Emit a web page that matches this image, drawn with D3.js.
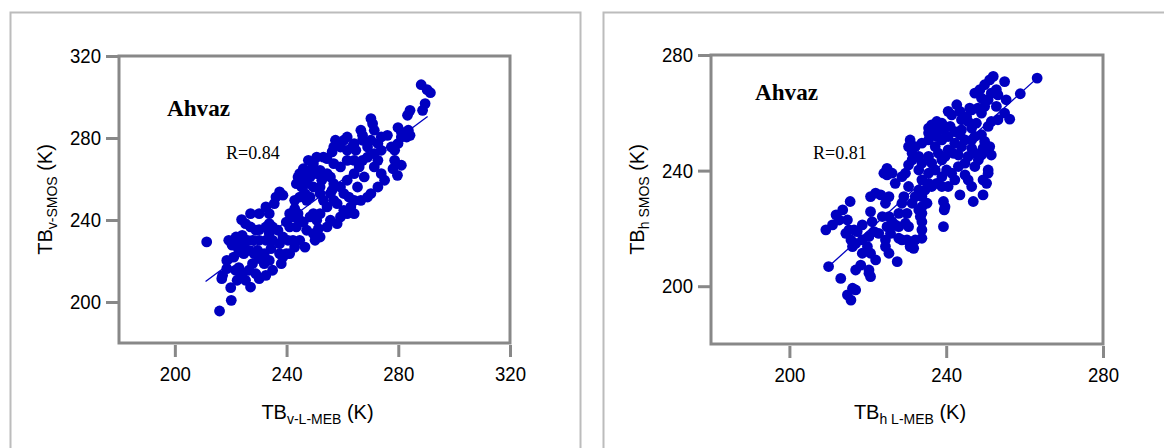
<!DOCTYPE html>
<html>
<head>
<meta charset="utf-8">
<script src="https://cdn.jsdelivr.net/npm/d3@7"></script>
<style>
  body { margin: 0; background: #fff; }
  svg { display: block; }
</style>
</head>
<body>
<div id="chart"></div>
<script>
// ---- data: vertical polarisation (left panel) ----
var vMeb = [288.2,290.3,291.5,289.6,288.7,284.2,283.3,279.9,281.1,283.6,284.2,283.0,276.1,278.7,279.9,277.5,270.2,270.8,266.6,267.2,
  271.4,270.2,272.7,261.7,260.5,264.2,263.5,261.7,259.3,256.9,256.3,254.5,253.2,249.6,249.0,246.0,244.7,244.1,243.5,245.4,
  247.2,248.4,250.8,252.0,254.5,255.7,256.9,259.3,261.7,264.2,266.0,267.2,269.0,271.4,273.9,272.7,271.4,273.9,275.1,272.7,
  270.2,269.0,266.6,264.2,263.0,261.7,264.2,278.7,281.1,279.7,278.1,255.7,256.9,254.5,252.0,255.7,258.1,259.3,260.5,258.1,
  253.2,252.0,249.6,248.4,247.2,244.7,242.9,237.5,238.7,236.2,235.6,233.8,232.6,230.2,227.1,223.9,225.3,242.9,244.1,242.3,
  239.9,241.1,243.5,246.0,248.4,249.6,250.8,251.4,249.6,252.0,250.2,246.6,244.7,242.3,242.9,241.1,238.7,238.1,239.9,240.5,
  237.5,233.8,235.0,236.9,233.8,232.6,234.4,232.0,233.8,235.0,232.6,230.2,229.0,227.1,225.3,224.1,222.3,221.7,222.9,226.5,
  227.8,230.2,232.0,220.5,221.9,224.1,226.0,224.7,222.9,226.5,228.4,229.6,230.2,227.8,229.0,230.2,217.1,218.6,216.8,220.0,
  220.2,216.0,211.4,247.8,250.8,257.5,264.8,269.0,267.8,265.4,260.5,252.6,246.6,241.1,244.7,235.0,238.7,247.2,254.5,256.3,
  262.3,259.3,256.9,261.7,264.2,252.0,247.2,245.4,273.9,267.2,281.1,237.5,230.2,219.3,222.9,227.1,224.7,218.6,221.1,232.6];
var vSmos = [306.0,303.6,302.1,296.8,293.5,293.5,291.1,285.1,282.9,283.8,281.3,280.5,281.3,274.0,277.3,275.6,289.5,287.0,283.8,281.3,
  283.8,278.9,277.3,280.5,278.9,277.3,275.6,274.0,275.6,275.6,273.2,269.9,270.7,267.5,265.0,265.0,262.6,261.0,257.7,256.1,
  257.7,261.0,262.6,264.2,262.6,261.0,257.7,256.1,259.4,262.6,265.9,269.1,270.7,272.4,274.0,269.1,265.9,262.6,259.4,256.1,
  252.9,251.2,249.6,249.6,246.4,243.1,243.1,269.1,266.7,261.8,265.0,252.9,249.6,246.4,243.1,239.9,238.2,241.5,244.7,248.0,
  249.6,252.9,256.1,251.2,249.6,251.2,249.6,253.7,252.1,251.2,248.0,243.1,246.4,243.1,243.1,240.2,238.2,245.5,243.1,241.5,
  239.0,236.6,236.6,239.0,241.5,243.1,239.9,235.8,233.4,231.7,230.1,226.8,230.1,230.1,226.8,223.6,222.0,218.7,223.6,230.1,
  228.5,238.2,236.6,235.0,233.4,230.1,226.0,223.6,220.3,215.5,213.0,211.4,213.8,207.3,210.6,213.8,210.6,215.5,216.8,215.5,
  218.7,221.2,218.7,227.7,231.7,232.5,230.1,226.8,225.2,225.2,223.6,225.2,222.0,230.1,235.0,235.3,213.0,216.3,211.4,207.0,
  200.8,195.6,229.3,269.1,270.7,278.9,274.0,275.6,261.0,256.1,252.9,259.4,252.9,243.1,239.9,230.1,231.7,235.0,236.6,254.5,
  251.2,265.9,267.5,269.1,269.1,256.1,262.6,259.4,280.5,278.9,280.5,223.6,230.1,230.1,229.3,236.6,223.6,220.3,221.9,236.6];
var vTicks = [200, 240, 280, 320];
var vFitX = [211, 290.5];
var vFitY = [210, 290.5];

// ---- data: horizontal polarisation (right panel) ----
var hMeb = [263.2,258.9,256.2,254.9,252.0,251.1,249.8,248.6,247.3,249.0,250.7,252.8,253.2,251.5,255.3,249.8,248.1,246.5,245.2,246.0,
  242.7,241.4,240.5,243.9,245.6,246.5,249.0,247.3,253.2,249.0,238.9,237.6,236.3,235.5,237.2,239.3,241.0,242.2,243.5,244.8,
  243.9,246.5,247.3,245.6,244.8,247.3,248.2,249.0,250.7,251.5,251.1,250.7,249.4,250.3,249.4,246.9,243.5,244.8,245.6,243.1,
  241.4,240.1,238.9,237.6,236.3,235.5,233.8,233.0,233.8,235.1,233.8,233.0,233.4,233.8,233.8,233.8,232.1,231.7,230.0,230.8,
  228.7,227.9,229.6,230.0,228.7,229.2,231.3,232.1,233.0,233.8,233.0,231.3,230.4,231.3,232.1,230.8,230.4,233.8,235.5,237.2,
  238.0,235.5,236.3,238.9,239.7,240.5,241.8,242.2,239.3,239.5,239.3,239.7,227.0,228.7,226.2,224.9,224.9,224.1,220.7,222.0,
  223.3,224.5,220.7,225.4,226.2,227.0,224.9,225.8,224.5,222.8,221.6,220.3,218.6,216.9,216.1,215.7,219.9,218.6,220.7,222.0,
  224.5,225.4,227.5,227.9,215.5,213.6,211.9,211.0,209.3,212.7,214.8,215.2,217.3,214.4,216.9,218.2,220.3,220.7,213.1,216.1,
  216.9,214.8,215.7,210.0,237.6,238.9,240.5,243.9,247.7,250.7,249.8,246.5,243.1,237.2,238.9,234.6,242.2,235.5,229.6,233.8,
  230.4,223.7,225.4,227.9,221.1,218.6,216.5,254.9,252.8,243.5,251.5,249.4,246.5,250.7,240.5,230.4,220.3,235.5];
var hSmos = [272.0,266.6,257.8,270.8,272.6,271.4,269.7,268.0,266.8,265.1,264.5,268.0,266.2,266.8,264.5,262.2,261.6,261.0,258.7,261.6,
  262.8,259.3,260.5,257.6,257.0,254.7,252.4,251.8,257.6,259.9,256.4,257.0,255.8,254.7,254.1,254.1,255.3,253.5,252.4,250.6,
  248.3,247.7,246.0,244.9,242.6,241.4,243.7,245.4,247.2,245.4,248.3,240.2,236.8,235.6,231.6,229.3,231.6,238.5,236.8,241.4,
  239.1,240.2,237.9,235.6,234.5,235.6,236.8,233.3,231.0,228.7,227.5,226.4,224.1,222.3,219.5,216.6,216.0,213.1,216.0,213.7,
  216.0,220.6,221.8,225.2,228.7,231.0,228.7,231.0,240.2,242.6,244.9,243.7,242.0,246.0,248.3,250.6,248.3,249.5,250.6,248.3,
  246.0,244.9,242.6,243.7,244.9,247.2,246.0,249.5,229.3,226.4,220.6,227.5,235.6,237.9,239.1,240.8,238.5,239.1,231.0,232.2,
  231.6,228.7,225.8,224.1,222.3,221.2,220.6,218.3,216.0,218.3,218.9,217.2,216.0,214.8,213.7,216.0,213.7,211.4,211.4,209.1,
  213.7,211.4,208.5,216.6,229.3,226.4,224.7,221.2,219.5,222.9,222.9,219.5,218.9,218.3,205.6,207.3,205.6,203.3,202.7,199.3,
  198.7,197.0,195.2,206.8,251.8,250.6,251.8,254.1,256.4,255.3,250.1,250.6,245.4,240.2,234.5,233.3,236.8,239.1,239.1,225.2,
  220.6,224.1,231.0,225.2,222.3,221.2,219.5,259.9,262.2,260.5,257.0,247.7,234.5,239.1,234.5,234.5,204.5,253.0];
var hTicks = [200, 240, 280];
var hFitX = [210, 263.2];
var hFitY = [206.8, 272];

var svgWidth = 1164;
var svgHeight = 448;

var svg = d3.select("#chart")
    .append("svg")
    .attr("width", svgWidth)
    .attr("height", svgHeight);

var dotColor = "#0000c0";
var frameColor = "#888888";

function drawPanel(p) {
    var g = svg.append("g");

    // light outer frame of the panel
    g.append("rect")
        .attr("x", p.frameX)
        .attr("y", 12.5)
        .attr("width", p.frameW)
        .attr("height", 480)
        .attr("fill", "none")
        .attr("stroke", "#bcbcbc")
        .attr("stroke-width", 2);

    var x = d3.scaleLinear().domain(p.domain).range([p.left, p.right]);
    var y = d3.scaleLinear().domain(p.domain).range([p.bottom, p.top]);

    // plot box
    g.append("rect")
        .attr("x", p.left)
        .attr("y", p.top)
        .attr("width", p.right - p.left)
        .attr("height", p.bottom - p.top)
        .attr("fill", "none")
        .attr("stroke", frameColor)
        .attr("stroke-width", 3);

    // axes
    var yAxis = d3.axisLeft(y).tickValues(p.ticks).tickSize(12).tickPadding(5).tickFormat(d3.format("d"));
    var xAxis = d3.axisBottom(x).tickValues(p.ticks).tickSize(12).tickPadding(10).tickFormat(d3.format("d"));

    var gy = g.append("g")
        .attr("transform", `translate(${p.left - 1},0)`)
        .call(yAxis);
    var gx = g.append("g")
        .attr("transform", `translate(0,${p.bottom + 2})`)
        .call(xAxis);

    [gx, gy].forEach(function(a) {
        a.select(".domain").remove();
        a.selectAll(".tick line").attr("stroke", frameColor).attr("stroke-width", 3);
        a.selectAll(".tick text")
            .attr("fill", "#000")
            .style("font-family", "'Liberation Sans', Arial, sans-serif")
            .style("font-size", "20px")
            .attr("textLength", 31)
            .attr("lengthAdjust", "spacingAndGlyphs");
    });

    // fitted line
    g.append("line")
        .attr("x1", x(p.fitX[0])).attr("y1", y(p.fitY[0]))
        .attr("x2", x(p.fitX[1])).attr("y2", y(p.fitY[1]))
        .attr("stroke", dotColor)
        .attr("stroke-width", 1.3);

    // points
    g.selectAll(".pt")
        .data(p.xs)
        .enter()
        .append("circle")
        .attr("cx", d => x(d))
        .attr("cy", (d, i) => y(p.ys[i]))
        .attr("r", 5.4)
        .attr("fill", dotColor);

    // station name and correlation
    g.append("text")
        .attr("x", p.nameX).attr("y", p.nameY)
        .style("font-family", "'Liberation Serif', 'Times New Roman', serif")
        .style("font-weight", "bold")
        .style("font-size", "23px")
        .attr("textLength", 63)
        .attr("lengthAdjust", "spacingAndGlyphs")
        .text("Ahvaz");

    g.append("text")
        .attr("x", p.rX).attr("y", 159)
        .style("font-family", "'Liberation Serif', 'Times New Roman', serif")
        .style("font-size", "18px")
        .text(p.rText);

    // axis titles
    var font = "'Liberation Sans', Arial, sans-serif";
    var xt = g.append("text")
        .attr("x", (p.left + p.right) / 2 + 3)
        .attr("y", 419)
        .attr("text-anchor", "middle")
        .style("font-family", font)
        .style("font-size", "20px");
    xt.append("tspan").text("TB");
    xt.append("tspan").attr("dy", 5).style("font-size", "14px").text(p.xSub);
    xt.append("tspan").attr("dy", -5).text(" (K)");

    var yt = g.append("text")
        .attr("transform", `translate(${p.yLabelX},${(p.top + p.bottom) / 2}) rotate(-90)`)
        .attr("text-anchor", "middle")
        .style("font-family", font)
        .style("font-size", "20px");
    yt.append("tspan").text("TB");
    yt.append("tspan").attr("dy", 5).style("font-size", "14px").text(p.ySub);
    yt.append("tspan").attr("dy", -5).text(" (K)");
}

drawPanel({
    frameX: 10.5, frameW: 570,
    left: 119, right: 510, top: 56, bottom: 343,
    domain: [180, 320], ticks: vTicks,
    xs: vMeb, ys: vSmos, fitX: vFitX, fitY: vFitY,
    nameX: 167, nameY: 116, rX: 226, rText: "R=0.84",
    xSub: "v-L-MEB", ySub: "v-SMOS", yLabelX: 52
});

drawPanel({
    frameX: 603.5, frameW: 600,
    left: 711, right: 1103, top: 55, bottom: 344,
    domain: [180, 280], ticks: hTicks,
    xs: hMeb, ys: hSmos, fitX: hFitX, fitY: hFitY,
    nameX: 755, nameY: 100, rX: 813, rText: "R=0.81",
    xSub: "h L-MEB", ySub: "h SMOS", yLabelX: 644
});
</script>
</body>
</html>
